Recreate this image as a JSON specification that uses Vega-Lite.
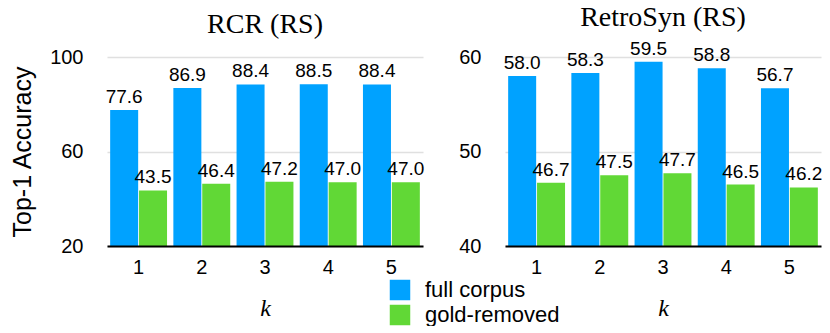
{
  "$schema": "https://vega.github.io/schema/vega-lite/v6.json",
  "padding": {"left": 10, "top": 3, "right": 5, "bottom": 0},
  "bounds": "flush",
  "spacing": 82,
  "config": {
    "view": {"stroke": null},
    "font": "Liberation Sans",
    "title": {"font": "Liberation Serif", "fontSize": 28, "fontWeight": "normal", "color": "black", "offset": 8},
    "axis": {"labelFont": "Liberation Sans", "labelColor": "black", "titleColor": "black"}
  },
  "datasets": {
    "rcr": [
      {"k": "1", "series": "full corpus", "value": 77.6},
      {"k": "1", "series": "gold-removed", "value": 43.5},
      {"k": "2", "series": "full corpus", "value": 86.9},
      {"k": "2", "series": "gold-removed", "value": 46.4},
      {"k": "3", "series": "full corpus", "value": 88.4},
      {"k": "3", "series": "gold-removed", "value": 47.2},
      {"k": "4", "series": "full corpus", "value": 88.5},
      {"k": "4", "series": "gold-removed", "value": 47.0},
      {"k": "5", "series": "full corpus", "value": 88.4},
      {"k": "5", "series": "gold-removed", "value": 47.0}
    ],
    "retro": [
      {"k": "1", "series": "full corpus", "value": 58.0},
      {"k": "1", "series": "gold-removed", "value": 46.7},
      {"k": "2", "series": "full corpus", "value": 58.3},
      {"k": "2", "series": "gold-removed", "value": 47.5},
      {"k": "3", "series": "full corpus", "value": 59.5},
      {"k": "3", "series": "gold-removed", "value": 47.7},
      {"k": "4", "series": "full corpus", "value": 58.8},
      {"k": "4", "series": "gold-removed", "value": 46.5},
      {"k": "5", "series": "full corpus", "value": 56.7},
      {"k": "5", "series": "gold-removed", "value": 46.2}
    ]
  },
  "resolve": {"scale": {"color": "independent", "y": "independent"}},
  "hconcat": [
    {
      "width": 316,
      "height": 189,
      "title": "RCR (RS)",
      "data": {"name": "rcr"},
      "encoding": {
        "x": {
          "field": "k", "type": "ordinal",
          "scale": {"paddingInner": 0.1, "paddingOuter": 0.05},
          "title": "k",
          "axis": {"labelAngle": 0, "labelFontSize": 20, "labelPadding": 11, "ticks": false, "tickSize": 0,
                   "domainColor": "black", "domainWidth": 2, "titleFont": "Liberation Serif", "titleFontStyle": "italic",
                   "titleFontWeight": "normal", "titleFontSize": 24, "titlePadding": 19, "zindex": 1}
        },
        "xOffset": {"field": "series", "scale": {"domain": ["full corpus", "gold-removed"], "paddingInner": 0.03}},
        "y": {
          "field": "value", "type": "quantitative", "stack": null,
          "scale": {"domain": [20, 100], "nice": false, "zero": false},
          "title": "Top-1 Accuracy",
          "axis": {"values": [20, 60, 100], "labelFontSize": 20, "labelPadding": 24, "ticks": false, "tickSize": 0,
                   "domain": false, "gridColor": "#e0e0e0", "gridWidth": 1.5, "titleFont": "Liberation Sans",
                   "titleFontSize": 25, "titleFontWeight": "normal", "titlePadding": 14}
        }
      },
      "layer": [
        {
          "mark": {"type": "bar"},
          "encoding": {
            "y2": {"datum": 20},
            "color": {
              "field": "series", "type": "nominal",
              "scale": {"domain": ["full corpus", "gold-removed"], "range": ["#00A2FF", "#61D836"]},
              "legend": {"title": null, "orient": "none", "legendX": 282, "legendY": 222, "symbolType": "square",
                         "symbolSize": 420, "symbolStrokeWidth": 0, "labelFontSize": 22, "labelFont": "Liberation Sans",
                         "labelColor": "black", "labelOffset": 14, "rowPadding": 3, "padding": 0}
            }
          }
        },
        {
          "mark": {"type": "text", "baseline": "alphabetic", "dy": -7, "fontSize": 19, "color": "black"},
          "encoding": {"text": {"field": "value", "type": "quantitative", "format": ".1f"}}
        }
      ]
    },
    {
      "width": 316,
      "height": 189,
      "title": "RetroSyn (RS)",
      "data": {"name": "retro"},
      "encoding": {
        "x": {
          "field": "k", "type": "ordinal",
          "scale": {"paddingInner": 0.1, "paddingOuter": 0.05},
          "title": "k",
          "axis": {"labelAngle": 0, "labelFontSize": 20, "labelPadding": 11, "ticks": false, "tickSize": 0,
                   "domainColor": "black", "domainWidth": 2, "titleFont": "Liberation Serif", "titleFontStyle": "italic",
                   "titleFontWeight": "normal", "titleFontSize": 24, "titlePadding": 19, "zindex": 1}
        },
        "xOffset": {"field": "series", "scale": {"domain": ["full corpus", "gold-removed"], "paddingInner": 0.03}},
        "y": {
          "field": "value", "type": "quantitative", "stack": null,
          "scale": {"domain": [40, 60], "nice": false, "zero": false},
          "title": null,
          "axis": {"values": [40, 50, 60], "labelFontSize": 20, "labelPadding": 24, "ticks": false, "tickSize": 0,
                   "domain": false, "gridColor": "#e0e0e0", "gridWidth": 1.5}
        }
      },
      "layer": [
        {
          "mark": {"type": "bar"},
          "encoding": {
            "y2": {"datum": 40},
            "color": {
              "field": "series", "type": "nominal",
              "scale": {"domain": ["full corpus", "gold-removed"], "range": ["#00A2FF", "#61D836"]},
              "legend": null
            }
          }
        },
        {
          "mark": {"type": "text", "baseline": "alphabetic", "dy": -7, "fontSize": 19, "color": "black"},
          "encoding": {"text": {"field": "value", "type": "quantitative", "format": ".1f"}}
        }
      ]
    }
  ]
}
